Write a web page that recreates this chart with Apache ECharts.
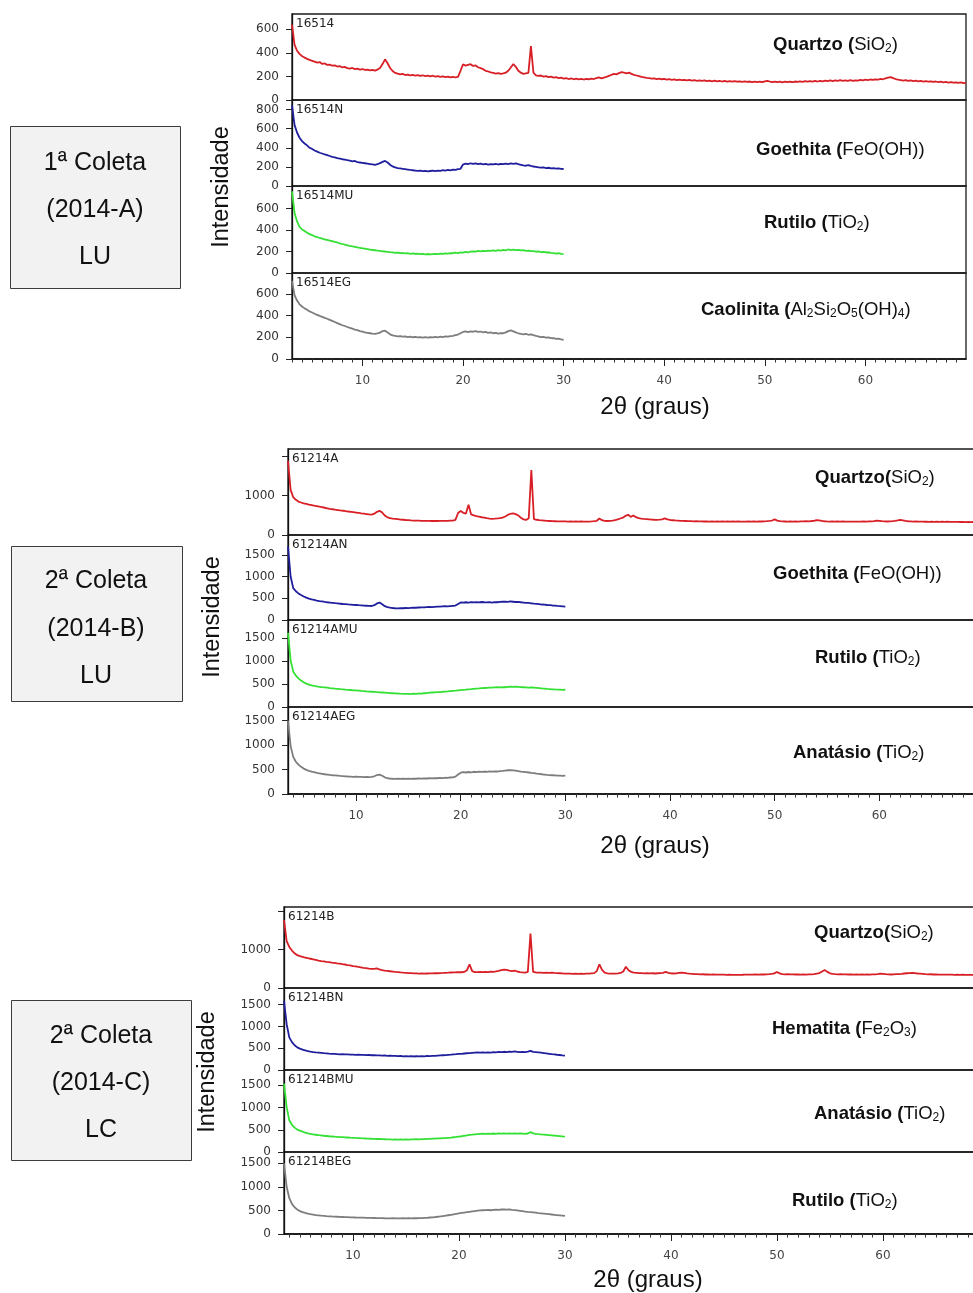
<!DOCTYPE html>
<html>
<head>
<meta charset="utf-8">
<script src="https://cdn.jsdelivr.net/npm/echarts@6/dist/echarts.min.js"></script>
<style>
  html, body { margin: 0; padding: 0; background: #ffffff; }
  #chart { width: 973px; height: 1293px; }
</style>
</head>
<body>
<div id="chart"></div>
<script>
// Angular sampling of every diffractogram (degrees 2θ)
const STEP = 0.25;

// x tick labels (2θ)
const xTickValues = [10, 20, 30, 40, 50, 60];

// ---------- 1ª Coleta (2014-A) LU — patterns start at 3.0° ----------
const start2014A = 3.0;
const i16514 = [
  640, 470, 418, 392, 372, 360, 349, 340, 333, 326, 318, 322, 306, 310, 298, 300, 291, 294, 284, 288,
  276, 281, 270, 266, 272, 262, 266, 258, 263, 255, 258, 251, 256, 249, 258, 272, 305, 345, 312, 272,
  246, 230, 224, 218, 222, 212, 216, 209, 214, 206, 211, 204, 210, 203, 207, 200, 206, 198, 203, 197,
  201, 194, 199, 192, 197, 191, 196, 248, 303, 292, 298, 304, 289, 294, 278, 270, 262, 248, 242, 234,
  230, 224, 228, 221, 226, 232, 248, 276, 305, 282, 248, 232, 222, 226, 230, 458, 232, 210, 204, 208,
  198, 203, 194, 198, 190, 194, 186, 190, 182, 186, 178, 183, 176, 181, 175, 180, 174, 179, 176, 182,
  178, 186, 192, 184, 190, 196, 204, 214, 222, 218, 228, 236, 232, 226, 232, 222, 214, 208, 202, 196,
  192, 188, 185, 181, 184, 178, 182, 176, 179, 173, 177, 171, 175, 169, 173, 168, 171, 166, 170, 165,
  168, 163, 167, 162, 166, 160, 165, 159, 164, 158, 163, 157, 162, 156, 161, 155, 160, 155, 159, 154,
  158, 153, 157, 152, 157, 152, 156, 151, 158, 163, 157, 152, 156, 151, 155, 150, 156, 151, 155, 152,
  157, 153, 158, 154, 160, 155, 161, 156, 162, 157, 163, 158, 164, 160, 166, 161, 167, 162, 168, 163,
  166, 162, 168, 163, 167, 164, 170, 166, 172, 168, 174, 170, 176, 172, 180, 176, 184, 190, 194, 186,
  178, 172, 168, 164, 168, 162, 166, 160, 164, 158, 162, 156, 160, 155, 159, 153, 157, 151, 155, 150,
  153, 148, 152, 147, 150, 145, 149, 144, 146
];
const i16514N = [
  846, 640, 560, 505, 470, 445, 425, 400, 388, 372, 360, 348, 340, 330, 322, 314, 305, 300, 292, 286,
  280, 276, 270, 266, 258, 262, 250, 246, 242, 238, 234, 230, 226, 222, 228, 240, 252, 262, 246, 222,
  205, 195, 188, 184, 180, 176, 172, 168, 165, 162, 158, 160, 155, 158, 152, 157, 160, 156, 162, 158,
  165, 161, 168, 164, 172, 168, 176, 180, 225, 235, 230, 238, 232, 236, 228, 234, 227, 232, 224, 230,
  226, 232, 225, 231, 228, 234, 230, 236, 232, 236, 228, 222, 215, 212, 218, 210, 204, 200, 196, 192,
  194, 188, 191, 185, 188, 182, 185, 180, 178
];
const i16514MU = [
  760, 560, 480, 430, 405, 390, 375, 362, 352, 342, 335, 326, 320, 312, 308, 302, 296, 290, 284, 276,
  270, 264, 258, 252, 248, 244, 238, 234, 230, 226, 222, 218, 214, 212, 208, 205, 202, 200, 197, 194,
  192, 188, 190, 185, 186, 182, 184, 179, 182, 177, 180, 175, 178, 174, 177, 173, 176, 178, 175, 180,
  178, 183, 181, 186, 184, 189, 186, 192, 190, 196, 193, 199, 202, 198, 205, 201, 207, 203, 209, 205,
  211, 207, 214, 209, 216, 211, 219, 214, 218, 213, 216, 210, 212, 206, 209, 204, 203, 198, 201, 195,
  196, 191, 193, 188, 186, 181, 184, 178, 176
];
const i16514EG = [
  723, 590, 540, 505, 485, 468, 455, 440, 430, 418, 408, 398, 390, 380, 372, 362, 352, 342, 332, 322,
  312, 305, 296, 288, 280, 272, 266, 258, 252, 246, 242, 238, 234, 232, 236, 244, 258, 262, 246, 228,
  218, 214, 210, 212, 206, 209, 203, 206, 201, 204, 199, 203, 198, 202, 197, 201, 199, 204, 200, 206,
  203, 209, 206, 212, 214, 220, 226, 238, 250, 255, 249, 256, 252, 257, 250, 254, 246, 250, 242, 246,
  238, 242, 234, 240, 238, 246, 258, 265, 256, 246, 238, 232, 228, 232, 224, 228, 220, 214, 208, 203,
  205, 198, 200, 193, 192, 186, 188, 181, 178
];

// ---------- 2ª Coleta (2014-B) LU — patterns start at 3.5° ----------
const start2014B = 3.5;
const i61214A = [
  1890, 1150, 962, 895, 852, 828, 806, 790, 772, 760, 746, 734, 720, 708, 694, 680, 666, 656, 644, 636,
  626, 618, 608, 598, 590, 582, 572, 562, 552, 544, 534, 524, 518, 542, 590, 616, 572, 494, 450, 432,
  418, 410, 402, 394, 388, 382, 378, 372, 368, 366, 364, 360, 362, 358, 362, 357, 361, 356, 360, 358,
  362, 360, 365, 368, 385, 560, 612, 564, 546, 770, 524, 500, 482, 466, 452, 440, 428, 418, 412, 416,
  422, 430, 442, 470, 512, 540, 550, 532, 498, 440, 398, 382, 424, 1651, 402, 388, 378, 372, 366, 360,
  356, 352, 350, 347, 349, 345, 347, 343, 346, 342, 345, 341, 344, 340, 343, 341, 346, 352, 362, 420,
  378, 360, 356, 360, 366, 380, 398, 420, 442, 488, 516, 462, 498, 455, 430, 418, 410, 404, 398, 392,
  388, 385, 390, 398, 422, 398, 382, 376, 370, 366, 362, 358, 356, 352, 354, 349, 351, 346, 349, 344,
  347, 342, 346, 341, 345, 340, 344, 341, 346, 342, 345, 341, 344, 340, 343, 339, 344, 341, 345, 342,
  346, 344, 349, 352, 358, 368, 398, 366, 352, 346, 344, 341, 345, 342, 346, 343, 348, 346, 351, 349,
  356, 362, 380, 372, 358, 350, 346, 343, 347, 342, 345, 341, 344, 340, 343, 339, 342, 339, 343, 340,
  344, 341, 346, 348, 356, 368, 360, 352, 347, 344, 348, 352, 360, 370, 385, 374, 360, 350, 346, 342,
  345, 340, 343, 338, 341, 336, 340, 335, 339, 334, 338, 333, 337, 333, 336, 332, 335, 331, 334, 330,
  333, 329, 332, 328, 331, 327, 330
];
const i61214AN = [
  1690, 1000, 732, 662, 612, 574, 540, 514, 492, 476, 462, 448, 436, 426, 416, 408, 401, 394, 386, 380,
  374, 368, 363, 358, 354, 350, 345, 340, 336, 332, 328, 324, 322, 340, 382, 400, 362, 318, 296, 284,
  276, 270, 268, 272, 270, 276, 274, 280, 284, 282, 288, 292, 290, 296, 300, 298, 304, 308, 306, 312,
  316, 314, 320, 326, 332, 368, 404, 398, 408, 402, 410, 404, 412, 406, 414, 408, 404, 410, 402, 412,
  408, 416, 420, 424, 418, 426, 420, 414, 416, 408, 402, 396, 392, 384, 376, 370, 364, 356, 352, 345,
  340, 334, 330, 324, 320, 314, 308
];
const i61214AMU = [
  1606, 1010, 770, 680, 620, 572, 536, 506, 484, 468, 456, 446, 438, 430, 424, 418, 410, 404, 396, 392,
  386, 382, 376, 372, 368, 362, 358, 354, 348, 344, 338, 334, 330, 326, 322, 318, 314, 310, 306, 302,
  298, 294, 292, 288, 286, 283, 285, 281, 288, 286, 292, 290, 298, 302, 310, 314, 318, 324, 322, 330,
  334, 338, 344, 350, 354, 360, 366, 372, 376, 384, 388, 394, 398, 402, 408, 412, 416, 420, 418, 424,
  428, 424, 432, 428, 436, 440, 434, 442, 438, 432, 428, 424, 418, 426, 420, 414, 408, 402, 398, 392,
  388, 384, 380, 378, 376, 372, 374
];
const i61214AEG = [
  1503, 980, 760, 660, 600, 556, 520, 494, 474, 458, 446, 434, 424, 414, 404, 398, 390, 384, 380, 375,
  370, 366, 362, 358, 356, 352, 354, 349, 352, 347, 350, 346, 349, 362, 388, 396, 374, 342, 322, 316,
  312, 310, 314, 308, 312, 309, 314, 310, 316, 312, 318, 314, 320, 317, 322, 319, 325, 322, 328, 325,
  332, 330, 338, 342, 356, 398, 436, 446, 440, 450, 444, 455, 448, 458, 452, 460, 454, 462, 456, 464,
  460, 468, 472, 480, 486, 490, 484, 476, 468, 458, 452, 446, 440, 432, 426, 418, 412, 404, 398, 392,
  388, 384, 380, 376, 378, 372, 375
];

// ---------- 2ª Coleta (2014-C) LC — patterns start at 3.5° ----------
const start2014C = 3.5;
const i61214B = [
  1767, 1220, 1070, 975, 905, 855, 830, 808, 792, 776, 762, 748, 734, 716, 702, 694, 682, 674, 662, 652,
  642, 634, 622, 612, 598, 590, 570, 562, 548, 538, 526, 516, 504, 498, 500, 512, 482, 466, 452, 444,
  436, 428, 420, 414, 406, 400, 396, 390, 386, 382, 380, 376, 378, 374, 378, 382, 380, 386, 384, 390,
  392, 396, 398, 404, 408, 410, 414, 410, 418, 460, 618, 440, 416, 412, 420, 414, 422, 416, 426, 420,
  432, 446, 466, 480, 470, 450, 442, 452, 430, 416, 408, 402, 420, 1420, 418, 404, 398, 402, 396, 400,
  394, 398, 392, 388, 384, 380, 376, 372, 376, 370, 374, 368, 372, 368, 374, 372, 380, 388, 440, 618,
  470, 398, 380, 376, 372, 376, 382, 392, 430, 555, 462, 420, 402, 396, 390, 386, 382, 386, 380, 384,
  378, 384, 388, 396, 418, 396, 384, 378, 380, 392, 402, 394, 380, 372, 368, 364, 360, 356, 358, 352,
  354, 350, 352, 348, 350, 346, 348, 344, 345, 342, 344, 340, 343, 345, 349, 347, 351, 348, 352, 350,
  354, 352, 356, 360, 368, 380, 418, 382, 362, 356, 358, 354, 356, 352, 355, 351, 354, 350, 353, 356,
  362, 372, 390, 432, 470, 420, 384, 368, 360, 356, 358, 354, 356, 352, 355, 351, 354, 350, 352, 349,
  352, 349, 354, 356, 362, 376, 368, 360, 356, 352, 356, 360, 364, 370, 378, 384, 388, 392, 386, 378,
  372, 366, 360, 356, 358, 352, 354, 349, 351, 347, 350, 346, 348, 344, 347, 343, 345, 341, 344, 340,
  342, 338, 341, 337, 339, 335, 338
];
const i61214BN = [
  1587, 1050, 747, 640, 568, 518, 490, 468, 448, 434, 422, 412, 404, 398, 392, 386, 382, 376, 372, 368,
  364, 360, 362, 356, 358, 352, 354, 349, 351, 346, 348, 342, 345, 338, 341, 334, 337, 330, 333, 326,
  329, 322, 325, 318, 321, 314, 318, 312, 316, 310, 315, 311, 318, 314, 322, 318, 326, 322, 330, 334,
  338, 342, 348, 352, 358, 362, 368, 372, 378, 384, 388, 394, 398, 402, 396, 404, 398, 406, 400, 410,
  404, 414, 408, 418, 412, 422, 414, 426, 418, 410, 416, 408, 420, 440, 414, 410, 404, 396, 388, 380,
  372, 364, 358, 350, 344, 336, 330
];
const i61214BMU = [
  1539, 1010, 713, 612, 548, 505, 480, 458, 438, 420, 406, 396, 388, 380, 374, 366, 360, 354, 349, 344,
  340, 336, 333, 328, 326, 322, 320, 316, 314, 310, 308, 304, 302, 298, 297, 293, 292, 288, 287, 283,
  284, 280, 283, 279, 282, 278, 283, 280, 285, 282, 288, 285, 291, 289, 295, 294, 300, 299, 306, 305,
  312, 312, 320, 322, 332, 338, 348, 354, 366, 372, 384, 390, 398, 404, 408, 412, 406, 414, 408, 416,
  410, 418, 412, 420, 414, 418, 412, 420, 414, 418, 412, 406, 416, 448, 420, 410, 402, 396, 392, 386,
  380, 374, 368, 362, 356, 350, 345
];
const i61214BEG = [
  1500, 1003, 760, 640, 568, 518, 486, 464, 446, 432, 420, 410, 402, 396, 390, 385, 380, 376, 372, 369,
  366, 363, 361, 358, 356, 354, 352, 350, 349, 347, 346, 344, 343, 341, 340, 338, 337, 336, 334, 333,
  332, 334, 331, 333, 330, 334, 331, 335, 332, 336, 334, 338, 337, 342, 344, 350, 354, 360, 366, 372,
  380, 388, 398, 408, 418, 428, 438, 446, 454, 462, 470, 478, 486, 494, 500, 504, 508, 510, 504, 512,
  516, 510, 520, 524, 518, 522, 514, 508, 500, 492, 484, 476, 470, 466, 460, 452, 444, 438, 432, 426,
  420, 414, 408, 402, 396, 390, 384
];

const RED = '#d81f26', BLUE = '#1f1f9e', GREEN = '#34e034', GRAY = '#7d7d7d';

// Layout of the three stacked figures (pixels)
const panels = [
  {
    start: start2014A, xMin: 3, xMax: 70, left: 292, width: 674,
    box: { x: 10, y: 126, w: 170, h: 162, cx: 95, lines: ['1ª Coleta', '(2014-A)', 'LU'], ly: [163, 210, 257] },
    yTitle: { x: 222, y: 187 }, xTitle: { x: 655, y: 407 },
    rows: [
      { top: 14, h: 86, yMax: 730, ticks: [0, 200, 400, 600], labels: [0, 200, 400, 600], name: '16514', data: i16514, color: RED,
        mineral: ['Quartzo (', 'SiO2)'], mx: 773, my: 44 },
      { top: 100, h: 86, yMax: 900, ticks: [0, 200, 400, 600, 800], labels: [0, 200, 400, 600, 800], name: '16514N', data: i16514N, color: BLUE,
        mineral: ['Goethita (', 'FeO(OH))'], mx: 756, my: 149 },
      { top: 186, h: 87, yMax: 810, ticks: [0, 200, 400, 600], labels: [0, 200, 400, 600], name: '16514MU', data: i16514MU, color: GREEN,
        mineral: ['Rutilo (', 'TiO2)'], mx: 764, my: 222 },
      { top: 273, h: 86, yMax: 795, ticks: [0, 200, 400, 600], labels: [0, 200, 400, 600], name: '16514EG', data: i16514EG, color: GRAY,
        mineral: ['Caolinita (', 'Al2Si2O5(OH)4)'], mx: 701, my: 309 }
    ]
  },
  {
    start: start2014B, xMin: 3.5, xMax: 70, left: 288, width: 696,
    box: { x: 11, y: 546, w: 171, h: 155, cx: 96, lines: ['2ª Coleta', '(2014-B)', 'LU'], ly: [581, 629, 676] },
    yTitle: { x: 213, y: 617 }, xTitle: { x: 655, y: 846 },
    rows: [
      { top: 449, h: 86, yMax: 2190, ticks: [0, 1000, 2000], labels: [0, 1000], name: '61214A', data: i61214A, color: RED,
        mineral: ['Quartzo(', 'SiO2)'], mx: 815, my: 477 },
      { top: 535, h: 85, yMax: 1955, ticks: [0, 500, 1000, 1500], labels: [0, 500, 1000, 1500], name: '61214AN', data: i61214AN, color: BLUE,
        mineral: ['Goethita (', 'FeO(OH))'], mx: 773, my: 573 },
      { top: 620, h: 87, yMax: 1885, ticks: [0, 500, 1000, 1500], labels: [0, 500, 1000, 1500], name: '61214AMU', data: i61214AMU, color: GREEN,
        mineral: ['Rutilo (', 'TiO2)'], mx: 815, my: 657 },
      { top: 707, h: 87, yMax: 1780, ticks: [0, 500, 1000, 1500], labels: [0, 500, 1000, 1500], name: '61214AEG', data: i61214AEG, color: GRAY,
        mineral: ['Anatásio (', 'TiO2)'], mx: 793, my: 752 }
    ]
  },
  {
    start: start2014C, xMin: 3.5, xMax: 70, left: 284, width: 705,
    box: { x: 11, y: 1000, w: 180, h: 160, cx: 101, lines: ['2ª Coleta', '(2014-C)', 'LC'], ly: [1036, 1083, 1130] },
    yTitle: { x: 208, y: 1072 }, xTitle: { x: 648, y: 1280 },
    rows: [
      { top: 907, h: 81, yMax: 2110, ticks: [0, 1000, 2000], labels: [0, 1000], name: '61214B', data: i61214B, color: RED,
        mineral: ['Quartzo(', 'SiO2)'], mx: 814, my: 932 },
      { top: 988, h: 82, yMax: 1880, ticks: [0, 500, 1000, 1500], labels: [0, 500, 1000, 1500], name: '61214BN', data: i61214BN, color: BLUE,
        mineral: ['Hematita (', 'Fe2O3)'], mx: 772, my: 1028 },
      { top: 1070, h: 82, yMax: 1845, ticks: [0, 500, 1000, 1500], labels: [0, 500, 1000, 1500], name: '61214BMU', data: i61214BMU, color: GREEN,
        mineral: ['Anatásio (', 'TiO2)'], mx: 814, my: 1113 },
      { top: 1152, h: 82, yMax: 1740, ticks: [0, 500, 1000, 1500], labels: [0, 500, 1000, 1500], name: '61214BEG', data: i61214BEG, color: GRAY,
        mineral: ['Rutilo (', 'TiO2)'], mx: 792, my: 1200 }
    ]
  }
];

const AXIS_FONT = 'DejaVu Sans';
const TEXT_FONT = 'Liberation Sans, Arial, sans-serif';
const plain = v => String(v);

// bold name + formula with subscripted digits, as rich text
function mineralRich(bold, formula) {
  let s = '{b|' + bold + '}';
  const parts = formula.match(/\d+|\D+/g);
  parts.forEach(p => { s += /\d/.test(p) ? '{s|' + p + '}' : '{r|' + p + '}'; });
  return s;
}

const grid = [], xAxis = [], yAxis = [], series = [], graphic = [];

panels.forEach(panel => {
  const minorTicks = [];
  for (let v = Math.ceil(panel.xMin); v < panel.xMax; v++) if (v % 10 !== 0) minorTicks.push(v);

  panel.rows.forEach((row, r) => {
    const gi = grid.length;
    const isBottom = r === panel.rows.length - 1;
    grid.push({
      left: panel.left, top: row.top, width: panel.width, height: row.h,
      outerBoundsMode: 'none', containLabel: false,
      show: true, borderColor: '#1b1b1b', borderWidth: 1.3, backgroundColor: 'transparent'
    });
    xAxis.push({
      type: 'value', gridIndex: gi, min: panel.xMin, max: panel.xMax, position: 'bottom',
      show: isBottom,
      axisLine: { show: true, onZero: false, lineStyle: { color: '#111', width: 1.5 } },
      axisTick: { show: true, customValues: xTickValues, length: 7, lineStyle: { color: '#222', width: 1 } },
      axisLabel: { show: true, customValues: xTickValues, formatter: plain, margin: 16, fontSize: 12, fontFamily: AXIS_FONT, color: '#444' },
      splitLine: { show: false }
    });
    yAxis.push({
      type: 'value', gridIndex: gi, min: 0, max: row.yMax,
      axisLine: { show: true, lineStyle: { color: '#111', width: 1.3 } },
      axisTick: { show: true, customValues: row.ticks, length: 6, lineStyle: { color: '#222', width: 1 } },
      axisLabel: { show: true, customValues: row.labels, formatter: plain, margin: 13, fontSize: 12, fontFamily: AXIS_FONT, color: '#333' },
      splitLine: { show: false }
    });
    series.push({
      type: 'line', xAxisIndex: xAxis.length - 1, yAxisIndex: yAxis.length - 1,
      data: row.data.map((v, i) => [panel.start + i * STEP, v]),
      showSymbol: false, symbol: 'none', silent: true, clip: true,
      lineStyle: { color: row.color, width: 1.8, join: 'bevel' }
    });
    if (isBottom) {
      // minor ticks every degree
      xAxis.push({
        type: 'value', gridIndex: gi, min: panel.xMin, max: panel.xMax, position: 'bottom',
        axisLine: { show: false },
        axisTick: { show: true, customValues: minorTicks, length: 3.5, lineStyle: { color: '#333', width: 1 } },
        axisLabel: { show: false },
        splitLine: { show: false }
      });
    }
    // sample code in the corner of each trace
    graphic.push({
      type: 'text', x: panel.left + 4, y: row.top + 10, silent: true,
      style: { text: row.name, font: '12px ' + AXIS_FONT, fill: '#222', textAlign: 'left', textVerticalAlign: 'middle' }
    });
    // mineral phase
    graphic.push({
      type: 'text', x: row.mx, y: row.my, silent: true,
      style: {
        text: mineralRich(row.mineral[0], row.mineral[1]),
        textAlign: 'left', textVerticalAlign: 'middle', fill: '#111',
        rich: {
          b: { fontFamily: TEXT_FONT, fontSize: 18.5, fontWeight: 'bold', fill: '#111', lineHeight: 21, verticalAlign: 'bottom' },
          r: { fontFamily: TEXT_FONT, fontSize: 18.5, fill: '#111', lineHeight: 21, verticalAlign: 'bottom' },
          s: { fontFamily: TEXT_FONT, fontSize: 12, fill: '#111', lineHeight: 12, verticalAlign: 'bottom' }
        }
      }
    });
  });

  // sample description box
  const b = panel.box;
  graphic.push({
    type: 'rect', silent: true,
    shape: { x: b.x + 0.5, y: b.y + 0.5, width: b.w, height: b.h },
    style: { fill: '#f2f2f2', stroke: '#3c3c3c', lineWidth: 1 }
  });
  b.lines.forEach((t, k) => {
    graphic.push({
      type: 'text', x: b.cx, y: b.ly[k], silent: true,
      style: { text: t, font: '25px ' + TEXT_FONT, fill: '#111', textAlign: 'center', textVerticalAlign: 'middle' }
    });
  });

  graphic.push({
    type: 'text', x: panel.yTitle.x, y: panel.yTitle.y, rotation: Math.PI / 2, silent: true,
    style: { text: 'Intensidade', font: '23.5px ' + TEXT_FONT, fill: '#111', textAlign: 'center', textVerticalAlign: 'middle' }
  });
  graphic.push({
    type: 'text', x: panel.xTitle.x, y: panel.xTitle.y, silent: true,
    style: { text: '2θ (graus)', font: '24px ' + TEXT_FONT, fill: '#111', textAlign: 'center', textVerticalAlign: 'middle' }
  });
});

const chart = echarts.init(document.getElementById('chart'), null, { renderer: 'canvas', width: 973, height: 1293 });
chart.setOption({
  animation: false,
  backgroundColor: '#ffffff',
  grid, xAxis, yAxis, series, graphic
});
</script>
</body>
</html>
